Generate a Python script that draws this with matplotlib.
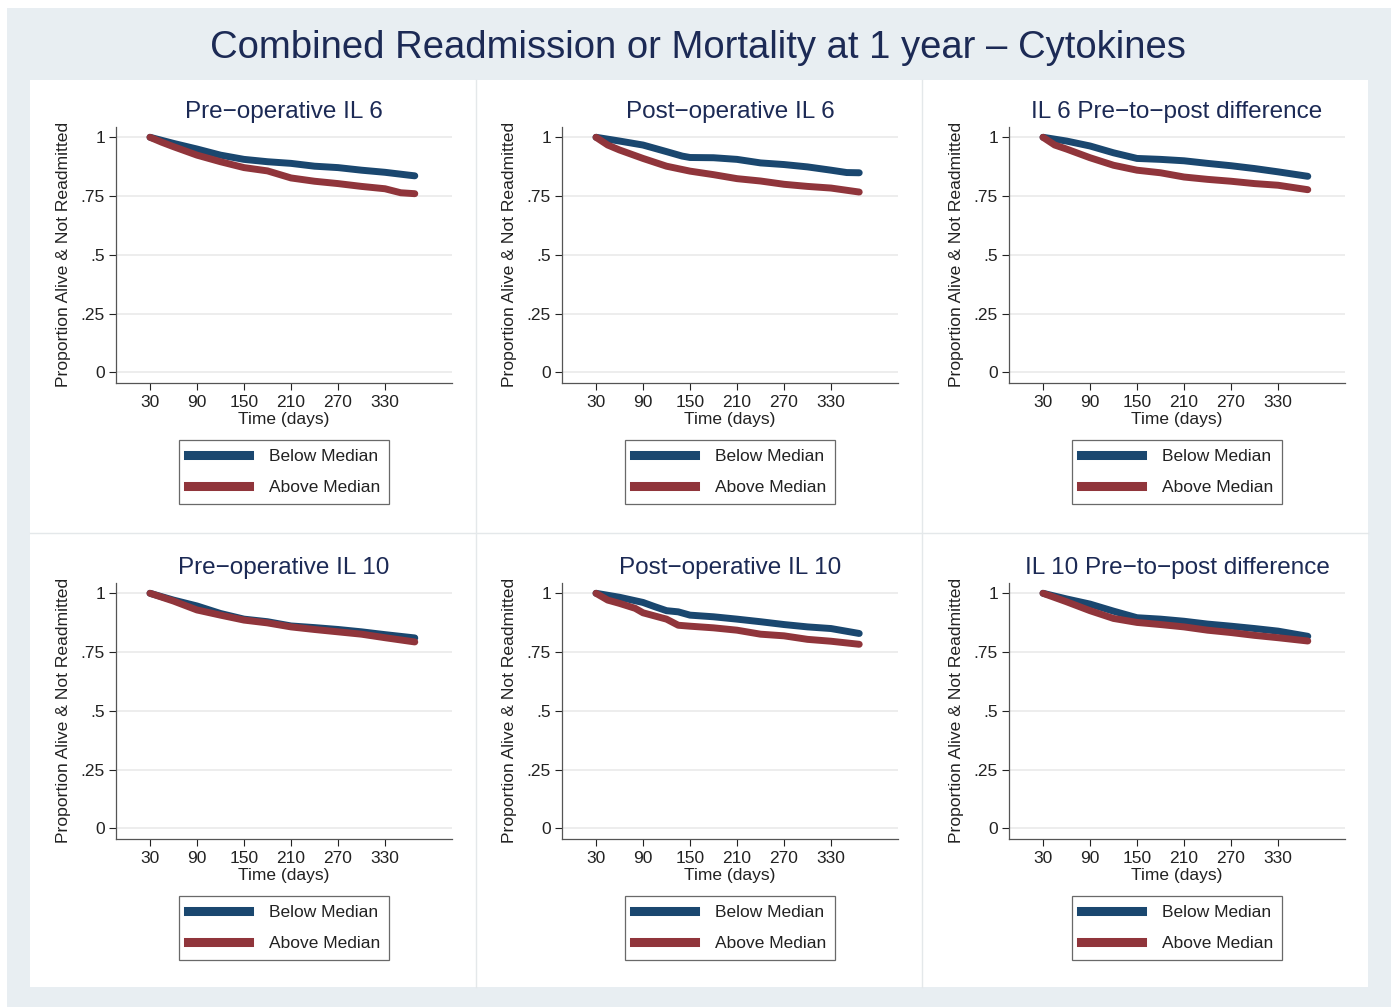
import matplotlib
matplotlib.use("Agg")
import matplotlib.pyplot as plt
from matplotlib.patches import Rectangle
from matplotlib.lines import Line2D

plt.rcParams['font.family'] = ['Liberation Sans', 'DejaVu Sans']

W, H = 1391, 1007

main_title = "Combined Readmission or Mortality at 1 year – Cytokines"
panel_titles = ["Pre−operative IL 6", "Post−operative IL 6", "IL 6 Pre−to−post difference",
                "Pre−operative IL 10", "Post−operative IL 10", "IL 10 Pre−to−post difference"]
series_labels = ["Below Median", "Above Median"]
y_label = "Proportion Alive & Not Readmitted"
x_label = "Time (days)"
x_ticks = [30, 90, 150, 210, 270, 330]
y_ticks = [0, 0.25, 0.5, 0.75, 1]
y_tick_labels = ["0", ".25", ".5", ".75", "1"]

# Panel 1: Pre-operative IL 6
p1_below_t = [30, 60, 90, 120, 150, 180, 210, 240, 270, 300, 330, 360, 368]
p1_below_s = [1.0, 0.974, 0.95, 0.924, 0.906, 0.896, 0.889, 0.877, 0.871, 0.86, 0.851, 0.839, 0.836]
p1_above_t = [30, 45, 60, 90, 120, 150, 180, 210, 240, 270, 300, 330, 350, 368]
p1_above_s = [1.0, 0.979, 0.96, 0.924, 0.896, 0.871, 0.857, 0.827, 0.813, 0.803, 0.791, 0.781, 0.764, 0.76]

# Panel 2: Post-operative IL 6
p2_below_t = [30, 60, 90, 120, 140, 150, 180, 210, 240, 270, 300, 330, 350, 366]
p2_below_s = [1.0, 0.984, 0.967, 0.939, 0.92, 0.914, 0.913, 0.906, 0.891, 0.884, 0.874, 0.86, 0.85, 0.849]
p2_above_t = [30, 45, 60, 90, 120, 150, 180, 210, 240, 270, 300, 330, 366]
p2_above_s = [1.0, 0.967, 0.946, 0.91, 0.877, 0.856, 0.841, 0.824, 0.814, 0.8, 0.791, 0.784, 0.767]

# Panel 3: IL 6 Pre-to-post difference
p3_below_t = [30, 60, 90, 120, 150, 180, 210, 240, 270, 300, 330, 368]
p3_below_s = [1.0, 0.984, 0.963, 0.934, 0.91, 0.906, 0.9, 0.889, 0.879, 0.867, 0.853, 0.834]
p3_above_t = [30, 45, 60, 90, 120, 150, 180, 210, 240, 270, 300, 330, 368]
p3_above_s = [1.0, 0.967, 0.95, 0.913, 0.881, 0.86, 0.849, 0.831, 0.821, 0.813, 0.803, 0.796, 0.777]

# Panel 4: Pre-operative IL 10
p4_below_t = [30, 60, 90, 120, 150, 180, 210, 240, 270, 300, 330, 368]
p4_below_s = [1.0, 0.971, 0.946, 0.914, 0.89, 0.879, 0.861, 0.854, 0.846, 0.836, 0.824, 0.81]
p4_above_t = [30, 60, 90, 120, 150, 180, 210, 240, 270, 300, 330, 368]
p4_above_s = [1.0, 0.967, 0.929, 0.907, 0.886, 0.874, 0.857, 0.846, 0.836, 0.826, 0.811, 0.793]

# Panel 5: Post-operative IL 10
p5_below_t = [30, 60, 90, 105, 120, 135, 150, 180, 210, 240, 270, 300, 330, 366]
p5_below_s = [1.0, 0.983, 0.961, 0.943, 0.926, 0.921, 0.907, 0.9, 0.89, 0.879, 0.867, 0.857, 0.85, 0.829]
p5_above_t = [30, 45, 60, 80, 90, 120, 135, 150, 180, 210, 240, 270, 300, 330, 366]
p5_above_s = [1.0, 0.971, 0.957, 0.936, 0.917, 0.89, 0.864, 0.86, 0.853, 0.843, 0.826, 0.819, 0.804, 0.796, 0.783]

# Panel 6: IL 10 Pre-to-post difference
p6_below_t = [30, 60, 90, 120, 150, 180, 210, 240, 270, 300, 330, 368]
p6_below_s = [1.0, 0.976, 0.954, 0.924, 0.896, 0.89, 0.881, 0.869, 0.86, 0.85, 0.839, 0.817]
p6_above_t = [30, 60, 90, 120, 150, 180, 210, 240, 270, 300, 330, 368]
p6_above_s = [1.0, 0.964, 0.926, 0.893, 0.876, 0.867, 0.857, 0.843, 0.833, 0.821, 0.811, 0.797]

panels = [
    (p1_below_t, p1_below_s, p1_above_t, p1_above_s),
    (p2_below_t, p2_below_s, p2_above_t, p2_above_s),
    (p3_below_t, p3_below_s, p3_above_t, p3_above_s),
    (p4_below_t, p4_below_s, p4_above_t, p4_above_s),
    (p5_below_t, p5_below_s, p5_above_t, p5_above_s),
    (p6_below_t, p6_below_s, p6_above_t, p6_above_s),
]

NAVY = "#1a476f"
MAROON = "#90353b"
BG = "#e8eef2"
TITLE_C = "#1c2a55"

fig = plt.figure(figsize=(W / 100, H / 100), dpi=100, facecolor="white")

def fx(x):
    return x / W

def fy(y):
    return 1 - y / H

# outer bluish-gray region
fig.patches.append(Rectangle((fx(7), 0), 1 - fx(7), fy(8), transform=fig.transFigure,
                             facecolor=BG, edgecolor="none", zorder=-10))
# white panel area
fig.patches.append(Rectangle((fx(30), fy(987)), fx(1368) - fx(30), fy(80) - fy(987),
                             transform=fig.transFigure, facecolor="white", edgecolor="none", zorder=-9))
# panel separators
for xs in [476, 922]:
    fig.add_artist(Line2D([fx(xs), fx(xs)], [fy(987), fy(80)], transform=fig.transFigure,
                          color="#e4e8ea", lw=1.0, zorder=-8))
fig.add_artist(Line2D([fx(30), fx(1368)], [fy(533), fy(533)], transform=fig.transFigure,
                      color="#e4e8ea", lw=1.0, zorder=-8))

fig.text(fx(698), fy(48), main_title, ha="center", va="center", fontsize=27.5, color=TITLE_C)

col_off = [0, 446, 893]
row_off = [0, 456]

for i, (bt, bs, at, as_) in enumerate(panels):
    r, c = divmod(i, 3)
    left = 116 + col_off[c]
    right = left + 336
    top = 126.7 + row_off[r]
    bottom = 382.7 + row_off[r]
    ax = fig.add_axes([fx(left), fy(bottom), fx(right) - fx(left), fy(top) - fy(bottom)])
    ax.set_facecolor("white")
    ax.set_xlim(-13.4, 415.5)
    ax.set_ylim(-0.044, 1.045)
    for yt in y_ticks:
        ax.axhline(yt, color="#eaeaea", lw=1.2, zorder=0)
    ax.plot(bt, bs, color=NAVY, lw=5.0, solid_capstyle="round", solid_joinstyle="round",
            label=series_labels[0], zorder=3)
    ax.plot(at, as_, color=MAROON, lw=5.0, solid_capstyle="round", solid_joinstyle="round",
            label=series_labels[1], zorder=4)
    ax.set_xticks(x_ticks)
    ax.set_xticklabels([str(v) for v in x_ticks])
    ax.set_yticks(y_ticks)
    ax.set_yticklabels(y_tick_labels)
    ax.tick_params(axis="both", labelsize=12.5, colors="#222222", length=5, width=0.8, pad=3.5)
    ax.tick_params(axis="y", pad=3)
    for s in ["top", "right"]:
        ax.spines[s].set_visible(False)
    for s in ["left", "bottom"]:
        ax.spines[s].set_color("#555555")
        ax.spines[s].set_linewidth(0.9)
    ax.set_xlabel(x_label, fontsize=12.5, color="#222222", labelpad=2)
    ax.set_ylabel(y_label, fontsize=12.6, color="#222222", labelpad=7)
    ax.set_title(panel_titles[i], fontsize=17.5, color=TITLE_C, pad=6)
    handles = [Line2D([], [], color=NAVY, lw=6.5), Line2D([], [], color=MAROON, lw=6.5)]
    leg = ax.legend(handles, series_labels, loc="upper center",
                    bbox_to_anchor=(0.5, (bottom - (440 + row_off[r])) / 256.0),
                    frameon=True, fancybox=False, edgecolor="#444444", fontsize=12.5,
                    handlelength=3.5, handletextpad=1.15, borderpad=0.5, labelspacing=0.95,
                    borderaxespad=0)
    leg.get_frame().set_linewidth(0.9)
    for t in leg.get_texts():
        t.set_color("#222222")

fig.savefig("out.png", dpi=100, facecolor="white")
